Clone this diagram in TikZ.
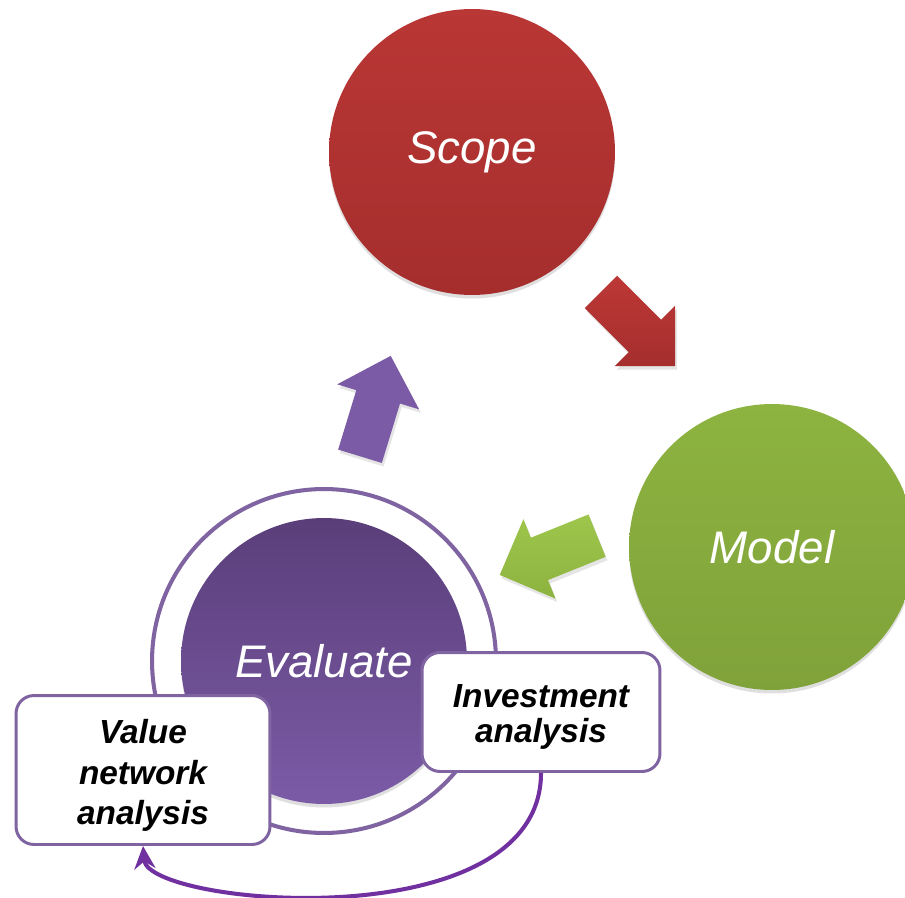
\documentclass[tikz,border=0pt]{standalone}
\usepackage{fontspec}
\setmainfont{Liberation Sans}
\usetikzlibrary{arrows.meta,shapes.arrows,shadows}

\definecolor{scopetop}{HTML}{B93735}
\definecolor{scopemid}{HTML}{CD3D3B}
\definecolor{scopebot}{HTML}{A52E2D}
\definecolor{modeltop}{HTML}{8DB340}
\definecolor{modelmid}{HTML}{9EC64B}
\definecolor{modelbot}{HTML}{80A23A}
\definecolor{evaltop}{HTML}{5A3E7A}
\definecolor{evalmid}{HTML}{6E5096}
\definecolor{evalbot}{HTML}{7B5BA6}
\definecolor{ringpurple}{HTML}{8064A2}
\definecolor{looppurple}{HTML}{7030A0}

\begin{document}
\begin{tikzpicture}[>={Stealth[length=13pt,width=12pt]},x=0.02cm,y=-0.02cm,
  stage/.style={circle,minimum size=5.72cm,inner sep=0pt,text=white,
    font=\itshape\fontsize{26}{30}\selectfont,
    drop shadow={shadow xshift=0pt,shadow yshift=-2pt,opacity=0.25}},
  scopestage/.style={stage,top color=scopetop,middle color=scopemid,bottom color=scopebot},
  modelstage/.style={stage,top color=modeltop,middle color=modelmid,bottom color=modelbot},
  evalstage/.style={stage,top color=evaltop,middle color=evalmid,bottom color=evalbot},
  ring/.style={circle,draw=ringpurple,line width=2.3pt,minimum size=6.88cm,inner sep=0pt},
  note/.style={draw=ringpurple,line width=1.7pt,rounded corners=0.36cm,fill=white,
    align=center,inner sep=0pt,font=\bfseries\itshape\fontsize{19}{20}\selectfont},
  blockarrow/.style={single arrow,minimum height=2.1cm,inner sep=0.45cm,
    single arrow head extend=0.4cm,
    drop shadow={shadow xshift=1pt,shadow yshift=-2pt,opacity=0.2}}]

\useasboundingbox[fill=white] (0,0) rectangle (905,898);

\node[scopestage] (scope) at (472,152) {Scope};
\node[modelstage] (model) at (772,547) {Model};
\node[ring] (ring) at (324,661) {};
\node[evalstage] (evaluate) at (ring.center) {Evaluate};

\node[blockarrow,rotate=-45,top color=scopemid!92!black,bottom color=scopebot] (toModel) at (630,321) {};
\node[blockarrow,rotate=-158,top color=modelmid,bottom color=modeltop] (toEvaluate) at (559,551) {};
\node[blockarrow,rotate=73,fill=evalbot] (toScope) at (372,417) {};

\node[note,minimum width=4.76cm,minimum height=2.38cm] (invest) at (541,712) {\rule{0pt}{19pt}Investment\\analysis};
\node[note,minimum width=5.08cm,minimum height=2.98cm,
  font=\bfseries\itshape\fontsize{19}{23}\selectfont] (value) at (143,770) {\rule{0pt}{20pt}Value\\network\\analysis};

\draw[->,draw=looppurple,line width=2.3pt] (invest.south) .. controls +(0,168) and +(5,60) .. (value.south);

\end{tikzpicture}
\end{document}
